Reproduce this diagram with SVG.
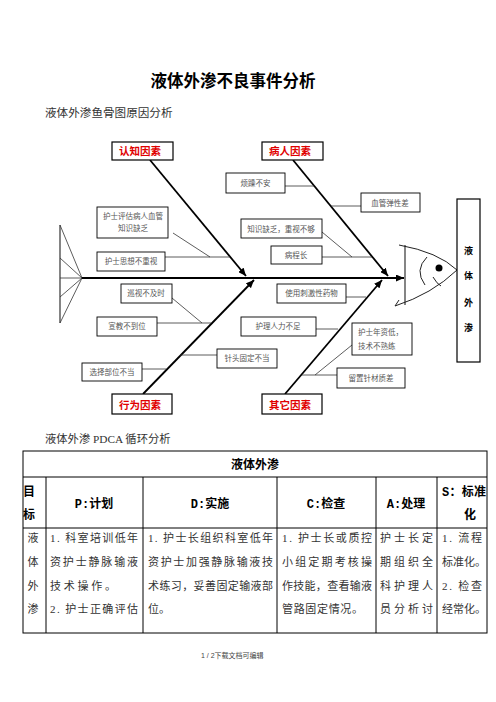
<svg xmlns="http://www.w3.org/2000/svg" width="496" height="702" viewBox="0 0 496 702">
<defs>
<marker id="arr" markerUnits="userSpaceOnUse" markerWidth="9" markerHeight="7" refX="8" refY="3.5" orient="auto">
<path d="M0,0 L8,3.5 L0,7 z" fill="#000"/>
</marker>
<style>
.cat rect{fill:#fff;stroke:#000;stroke-width:1.2}
.cat text{font-family:"Liberation Sans","Noto Sans CJK SC",sans-serif;font-weight:bold;font-size:10.5px;fill:#e00000}
.cause rect{fill:#fff;stroke:#000;stroke-width:0.9}
.cause text{font-family:"Liberation Serif","Noto Sans CJK SC",serif;font-size:7.5px;fill:#555;text-anchor:middle}
.cause text.left{text-anchor:start}
.bone{stroke:#000;stroke-width:1.8;fill:none}
.thin{stroke:#333;stroke-width:0.8;fill:none}
.gray{stroke:#666;stroke-width:1.6;fill:none}
.head{stroke:#222;stroke-width:1;fill:none}
.tb{stroke:#000;stroke-width:1;fill:none}
.th{font-family:"Liberation Mono","Noto Sans CJK SC",monospace;font-weight:bold;font-size:12px;fill:#000}
.td{font-family:"Liberation Serif","Noto Sans CJK SC",serif;font-size:11px;fill:#333}
</style>
</defs>
<rect width="496" height="702" fill="#fff"/>

<text x="233" y="87" text-anchor="middle" font-family="Liberation Sans, Noto Sans CJK SC, sans-serif" font-weight="bold" font-size="16.5" fill="#000">液体外渗不良事件分析</text>
<text x="45" y="117" font-family="Liberation Serif, Noto Sans CJK SC, serif" font-size="11.6" fill="#333">液体外渗鱼骨图原因分析</text>

<g id="connectors">
<line class="gray" x1="60" y1="225" x2="60" y2="323"/>
<line class="thin" x1="60" y1="278" x2="82" y2="278" stroke-width="1.2"/>
<path class="thin" stroke-width="1.2" d="M82,278 L60,225 M82,278 L60,258 M82,278 L60,297 M82,278 L60,323"/>
<line class="bone" x1="82" y1="278" x2="404" y2="278" stroke-width="2" marker-end="url(#arr)"/>
<line class="bone" x1="150" y1="160" x2="246" y2="276" marker-end="url(#arr)"/>
<line class="bone" x1="293" y1="160" x2="388" y2="276" marker-end="url(#arr)"/>
<line class="bone" x1="143" y1="394" x2="254" y2="280" marker-end="url(#arr)"/>
<line class="bone" x1="285" y1="394" x2="382" y2="280" marker-end="url(#arr)"/>
<line class="thin" x1="173" y1="233" x2="210" y2="257"/>
<line class="thin" x1="165" y1="257" x2="230" y2="257"/>
<line class="thin" x1="285" y1="186" x2="314" y2="186"/>
<line class="thin" x1="331" y1="206" x2="361" y2="206"/>
<line class="thin" x1="322" y1="232" x2="352" y2="257"/>
<line class="thin" x1="322" y1="257" x2="372" y2="257"/>
<line class="thin" x1="172" y1="298" x2="202" y2="323"/>
<line class="thin" x1="157" y1="323" x2="211" y2="323"/>
<line class="thin" x1="142" y1="369" x2="166" y2="369"/>
<line class="thin" x1="180" y1="355" x2="217" y2="355"/>
<line class="thin" x1="346" y1="297" x2="366" y2="297"/>
<line class="thin" x1="316" y1="329" x2="338" y2="329"/>
<line class="thin" x1="352" y1="345" x2="315" y2="375"/>
<line class="thin" x1="302" y1="375" x2="337" y2="375"/>
<line class="gray" x1="405" y1="245" x2="405" y2="305"/>
<path class="head" d="M399,245 Q438,252 457,270 Q432,294 395,306 L399,300"/>
<path class="head" d="M427,257 Q414,270 425,285"/>
<path class="head" d="M433,277 Q437,284 441,286"/>
<circle cx="439" cy="268" r="3.5" fill="#000"/>
</g>

<g id="cat-cognition" class="cat"><rect x="112" y="142" width="61" height="18"/><text x="119" y="155">认知因素</text></g>
<g id="cat-patient" class="cat"><rect x="262" y="142" width="61" height="18"/><text x="269" y="155">病人因素</text></g>
<g id="cat-behavior" class="cat"><rect x="112" y="394" width="60" height="20"/><text x="119" y="409">行为因素</text></g>
<g id="cat-other" class="cat"><rect x="262" y="394" width="60" height="20"/><text x="269" y="409">其它因素</text></g>

<g id="c1" class="cause"><rect x="97" y="207" width="71" height="31"/><text x="133" y="219">护士评估病人血管</text><text x="133" y="231">知识缺乏</text></g>
<g id="c2" class="cause"><rect x="97" y="252" width="68" height="19"/><text x="131" y="264">护士思想不重视</text></g>
<g id="c3" class="cause"><rect x="226" y="173" width="59" height="20"/><text x="255.5" y="186">烦躁不安</text></g>
<g id="c4" class="cause"><rect x="361" y="193" width="59" height="19"/><text x="390" y="206">血管弹性差</text></g>
<g id="c5" class="cause"><rect x="241" y="219" width="81" height="19"/><text x="281" y="232">知识缺乏，重视不够</text></g>
<g id="c6" class="cause"><rect x="271" y="246" width="51" height="18"/><text x="296" y="258">病程长</text></g>
<g id="c7" class="cause"><rect x="121" y="284" width="51" height="19"/><text x="146" y="296">巡视不及时</text></g>
<g id="c8" class="cause"><rect x="97" y="317" width="60" height="19"/><text x="127" y="329">宣教不到位</text></g>
<g id="c9" class="cause"><rect x="82" y="363" width="60" height="18"/><text x="112" y="375">选择部位不当</text></g>
<g id="c10" class="cause"><rect x="217" y="349" width="60" height="19"/><text x="247" y="361">针头固定不当</text></g>
<g id="c11" class="cause"><rect x="277" y="284" width="69" height="19"/><text x="311.5" y="296">使用刺激性药物</text></g>
<g id="c12" class="cause"><rect x="241" y="317" width="75" height="19"/><text x="278" y="329">护理人力不足</text></g>
<g id="c13" class="cause"><rect x="352" y="323" width="60" height="32"/><text class="left" x="358" y="335">护士年资低，</text><text class="left" x="358" y="349">技术不熟练</text></g>
<g id="c14" class="cause"><rect x="337" y="368" width="68" height="20"/><text x="371" y="381">留置针材质差</text></g>

<g id="effect">
<rect x="457" y="199" width="23" height="163" fill="#fff" stroke="#000" stroke-width="1.2"/>
<g font-family="Liberation Sans, Noto Sans CJK SC, sans-serif" font-weight="bold" font-size="9" text-anchor="middle" fill="#000">
<text x="468.5" y="253.5">液</text><text x="468.5" y="278.5">体</text><text x="468.5" y="305.5">外</text><text x="468.5" y="330.5">渗</text>
</g>
</g>

<text x="45" y="443" font-family="Liberation Serif, Noto Sans CJK SC, serif" font-size="11.3" fill="#333">液体外渗 PDCA 循环分析</text>

<g id="table">
<rect class="tb" x="23" y="451" width="464" height="182"/>
<line class="tb" x1="23" y1="477" x2="487" y2="477"/>
<line class="tb" x1="23" y1="528" x2="487" y2="528"/>
<path class="tb" d="M46,477 V633 M143,477 V633 M277,477 V633 M376,477 V633 M437,477 V633"/>
<text class="th" x="255" y="469" text-anchor="middle">液体外渗</text>
<text class="th" x="29" y="496" text-anchor="middle">目</text>
<text class="th" x="29" y="519" text-anchor="middle">标</text>
<text class="th" x="94" y="508" text-anchor="middle">P:计划</text>
<text class="th" x="210" y="508" text-anchor="middle">D:实施</text>
<text class="th" x="326" y="508" text-anchor="middle">C:检查</text>
<text class="th" x="406" y="508" text-anchor="middle">A:处理</text>
<text class="th" x="442" y="496" textLength="44" lengthAdjust="spacing">S：标准</text>
<text class="th" x="470" y="519" text-anchor="middle">化</text>

<g class="td">
<text x="33" y="542" text-anchor="middle">液</text>
<text x="33" y="566" text-anchor="middle">体</text>
<text x="33" y="590" text-anchor="middle">外</text>
<text x="33" y="613" text-anchor="middle">渗</text>

<text x="50" y="542" textLength="88" lengthAdjust="spacing">1. 科室培训低年</text>
<text x="50" y="566" textLength="88" lengthAdjust="spacing">资护士静脉输液</text>
<text x="50" y="590" textLength="66" lengthAdjust="spacing">技术操作。</text>
<text x="50" y="613" textLength="88" lengthAdjust="spacing">2. 护士正确评估</text>

<text x="148" y="542" textLength="125" lengthAdjust="spacing">1. 护士长组织科室低年</text>
<text x="148" y="566" textLength="125" lengthAdjust="spacing">资护士加强静脉输液技</text>
<text x="148" y="590" textLength="125" lengthAdjust="spacing">术练习，妥善固定输液部</text>
<text x="148" y="613">位。</text>

<text x="282" y="542" textLength="90" lengthAdjust="spacing">1. 护士长或质控</text>
<text x="282" y="566" textLength="90" lengthAdjust="spacing">小组定期考核操</text>
<text x="282" y="590" textLength="90" lengthAdjust="spacing">作技能，查看输液</text>
<text x="282" y="613" textLength="81" lengthAdjust="spacing">管路固定情况。</text>

<text x="380" y="542" textLength="53" lengthAdjust="spacing">护士长定</text>
<text x="380" y="566" textLength="53" lengthAdjust="spacing">期组织全</text>
<text x="380" y="590" textLength="53" lengthAdjust="spacing">科护理人</text>
<text x="380" y="613" textLength="53" lengthAdjust="spacing">员分析讨</text>

<text x="442" y="542" textLength="40" lengthAdjust="spacing">1. 流程</text>
<text x="442" y="566" textLength="44" lengthAdjust="spacing">标准化。</text>
<text x="442" y="590" textLength="40" lengthAdjust="spacing">2. 检查</text>
<text x="442" y="613" textLength="44" lengthAdjust="spacing">经常化。</text>
</g>
</g>

<text x="201" y="658" font-family="Liberation Sans, Noto Sans CJK SC, sans-serif" font-size="7" fill="#444">1 / 2下载文档可编辑</text>
</svg>
